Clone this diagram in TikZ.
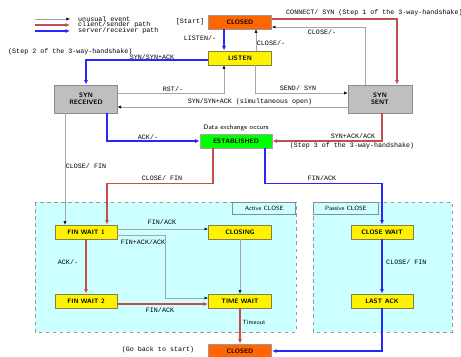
\documentclass[tikz,border=0pt]{standalone}
\usepackage{fontspec}
\setmainfont{Liberation Sans}
\setmonofont{Liberation Mono}
\usetikzlibrary{arrows.meta,positioning,calc}
\definecolor{clientred}{RGB}{196,78,78}
\definecolor{serverblue}{RGB}{40,40,250}
\definecolor{closedorange}{RGB}{255,102,0}
\definecolor{regioncyan}{RGB}{204,255,255}

\begin{document}
\begin{tikzpicture}[
  x=0.03cm, y=-0.03cm,
  font=\fontsize{5.7}{6}\selectfont\ttfamily,
  state/.style={draw=yellow!45!black, fill=yellow, line width=0.5pt,
                font=\fontsize{5.5}{6}\selectfont\sffamily\bfseries,
                minimum width=1.9cm, minimum height=0.42cm, inner sep=1pt, align=center},
  closedst/.style={state, draw=black!40, fill=closedorange},
  synst/.style={state, draw=black!45, fill=black!25, minimum width=1.88cm, minimum height=0.84cm},
  estst/.style={state, draw=black!35, fill=green, minimum width=2.16cm},
  unusual/.style={draw=black!35, line width=0.4pt, -{Latex[length=3pt,width=2.6pt,black]}},
  client/.style={draw=clientred, line width=1.1pt, -{Latex[length=4pt,width=3.4pt]}},
  server/.style={draw=serverblue, line width=0.9pt, -{Latex[length=4pt,width=3.4pt]}},
  lbl/.style={inner sep=0pt},
  region/.style={draw=black!40, dashed, line width=0.5pt, fill=regioncyan},
  regionlabel/.style={draw=black!45, line width=0.5pt, inner sep=0pt,
                      font=\fontsize{5.2}{6}\selectfont\sffamily}
]
  \useasboundingbox (0,0) rectangle (461,356);

  % --- close regions (background) ---
  \path[region] (35,202) rectangle (296,332);
  \path[region] (313,202) rectangle (452,332);
  \node[regionlabel, minimum width=1.89cm, minimum height=0.36cm, anchor=north east] (activelbl) at (296,202) {Active CLOSE};
  \node[regionlabel, minimum width=1.95cm, minimum height=0.36cm, anchor=north west] (passivelbl) at (313,202) {Passive CLOSE};

  % --- legend ---
  \coordinate (lgA1) at (35,19); \coordinate (lgA2) at (70,19);
  \coordinate (lgB1) at (35,25); \coordinate (lgB2) at (70,25);
  \coordinate (lgC1) at (35,31); \coordinate (lgC2) at (70,31);
  \draw[unusual] (lgA1) -- (lgA2);
  \draw[client] (lgB1) -- (lgB2);
  \draw[server] (lgC1) -- (lgC2);
  \node[lbl, anchor=west] at (78,19) {unusual event};
  \node[lbl, anchor=west] at (78,25) {client/sender path};
  \node[lbl, anchor=west] at (78,31) {server/receiver path};

  % --- states ---
  \node[closedst] (closedA) at (240,22) {CLOSED};
  \node[state] (listen) at (240,58) {LISTEN};
  \node[synst] (synrcvd) at (86,99) {SYN\\RECEIVED};
  \node[synst, minimum width=1.92cm] (synsent) at (380,99) {SYN\\SENT};
  \node[estst] (estab) at (236,141) {ESTABLISHED};
  \node[state, minimum width=1.86cm] (finwait1) at (86,232) {FIN WAIT 1};
  \node[state] (closing) at (240,232) {CLOSING};
  \node[state, minimum width=1.86cm] (closewait) at (382,232) {CLOSE WAIT};
  \node[state, minimum width=1.86cm] (finwait2) at (86,301) {FIN WAIT 2};
  \node[state] (timewait) at (240,301) {TIME WAIT};
  \node[state, minimum width=1.86cm] (lastack) at (382,301) {LAST ACK};
  \node[closedst] (closedB) at (240,351) {CLOSED};

  \node[lbl] at (190,22) {[Start]};
  \node[lbl] at (158,350) {(Go back to start)};
  \node[lbl, font=\fontsize{5.7}{6}\selectfont\sffamily, anchor=south] at ([yshift=2pt]estab.north) {Data exchange occurs};

  % --- opening ---
  \draw[client] ($(closedA.east)+(0,-3)$) -| ($(synsent.north)+(17,0)$);
  \node[lbl, anchor=west] at (286,13) {CONNECT/ SYN (Step 1 of the 3-way-handshake)};
  \draw[unusual] ($(synsent.north)+(-15,0)$) |- ($(closedA.east)+(0,5)$);
  \node[lbl] at (322,32) {CLOSE/-};

  \draw[server] ($(closedA.south)+(-16,0)$) -- ($(listen.north)+(-16,0)$);
  \node[lbl] at (200,38) {LISTEN/-};
  \draw[unusual] ($(listen.north)+(16,0)$) -- ($(closedA.south)+(16,0)$);
  \node[lbl] at (271,43) {CLOSE/-};

  \draw[server] ($(listen.west)+(0,2)$) -| (synrcvd.north);
  \node[lbl, anchor=west] at (8,52) {(Step 2 of the 3-way-handshake)};
  \node[lbl] at (152,57) {SYN/SYN+ACK};

  \draw[unusual] ($(synrcvd.east)+(0,-6)$) -| ($(listen.south)+(-16,0)$);
  \node[lbl] at (173,89) {RST/-};
  \draw[unusual] ($(listen.south)+(15,0)$) |- ($(synsent.west)+(0,-6)$);
  \node[lbl] at (298,88) {SEND/ SYN};

  \draw[unusual] ($(synsent.west)+(0,8)$) -- ($(synrcvd.east)+(0,8)$);
  \node[lbl] at (250,102) {SYN/SYN+ACK (simultaneous open)};

  \draw[server] ($(synrcvd.south)+(21,0)$) |- (estab.west);
  \node[lbl] at (148,137) {ACK/-};
  \draw[client] ($(synsent.south)+(2,0)$) |- (estab.east);
  \node[lbl] at (353,136) {SYN+ACK/ACK};
  \node[lbl] at (352,146) {(Step 3 of the 3-way-handshake)};

  % --- closing ---
  \draw[unusual] ($(synrcvd.south)+(-21,0)$) -- ($(finwait1.north)+(-21,0)$);
  \node[lbl] at (86,166) {CLOSE/ FIN};
  \draw[client] ($(estab.south)+(-23,0)$) -- ++(0,35) -| ($(finwait1.north)+(21,0)$);
  \node[lbl] at (162,178) {CLOSE/ FIN};
  \draw[server] ($(estab.south)+(29,0)$) -- ++(0,35) -| (closewait.north);
  \node[lbl] at (322,178) {FIN/ACK};

  \draw[unusual] ($(finwait1.east)+(0,-3)$) -- ($(closing.west)+(0,-3)$);
  \node[lbl] at (162,222) {FIN/ACK};
  \draw[unusual] ($(finwait1.east)+(0,3)$) -- (165,235) |- ($(timewait.west)+(0,-3)$);
  \node[lbl] at (143,242) {FIN+ACK/ACK};
  \draw[client] (finwait1.south) -- (finwait2.north);
  \node[lbl] at (68,262) {ACK/-};
  \draw[client] ($(finwait2.east)+(0,3)$) -- ($(timewait.west)+(0,3)$);
  \node[lbl] at (160,310) {FIN/ACK};
  \draw[unusual] (closing.south) -- (timewait.north);

  \draw[server] (closewait.south) -- (lastack.north);
  \node[lbl, anchor=west] at (386,262) {CLOSE/ FIN};

  \draw[client] (timewait.south) -- (closedB.north);
  \node[lbl, font=\fontsize{5.2}{6}\selectfont\sffamily] at (254,322) {Timeout};
  \draw[server] (lastack.south) |- (closedB.east);
\end{tikzpicture}
\end{document}
